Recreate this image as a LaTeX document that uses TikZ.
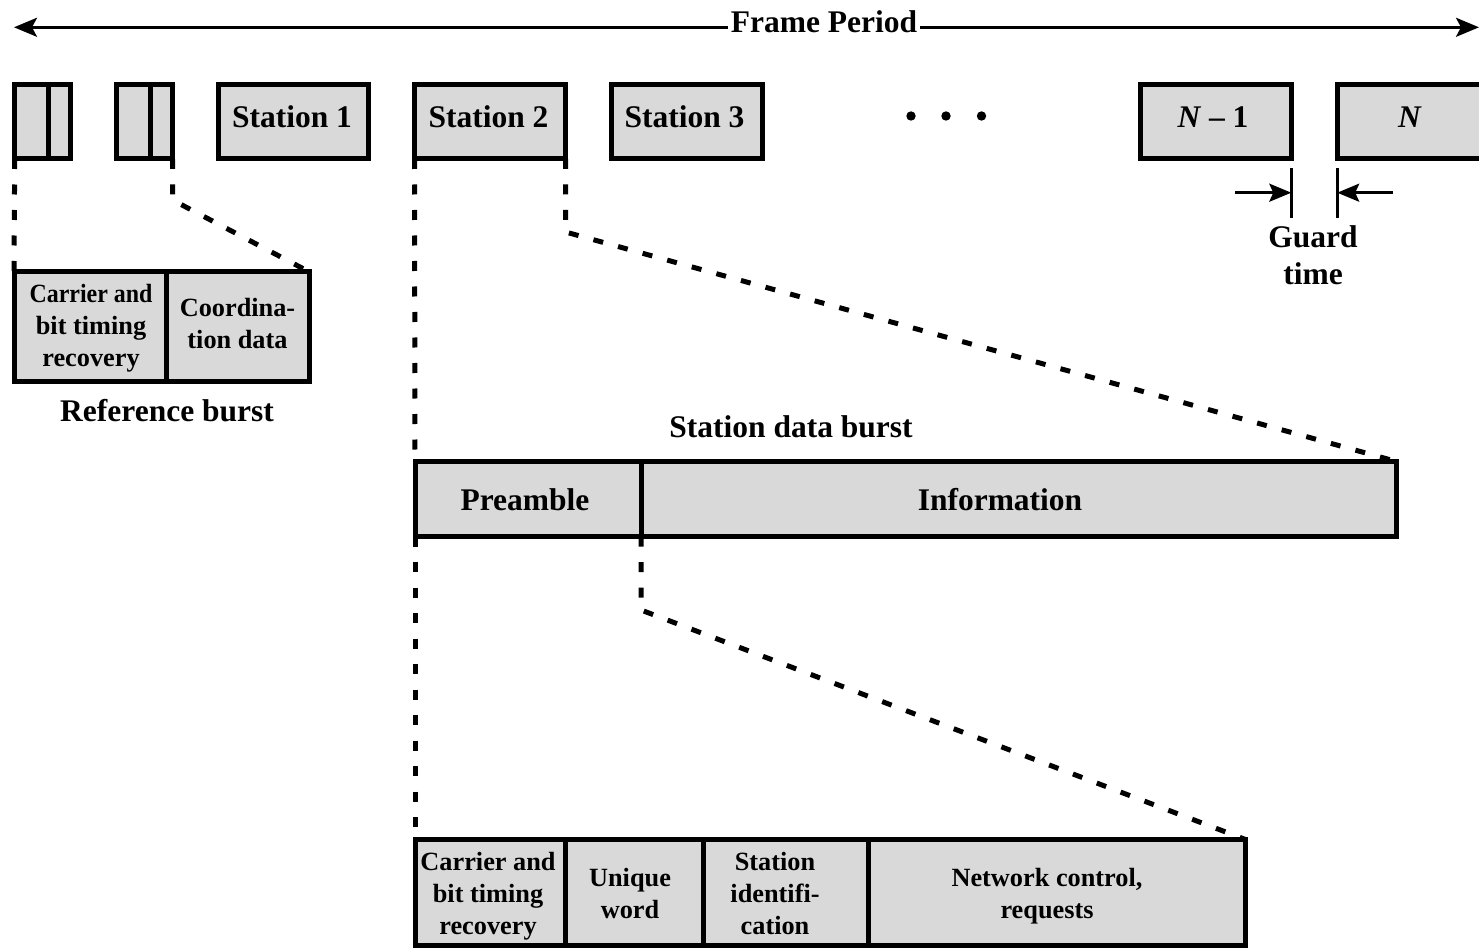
\documentclass[tikz,border=0pt]{standalone}
\usepackage{fontspec}
\setmainfont{Liberation Serif}
\usetikzlibrary{arrows.meta}
\definecolor{cellgray}{RGB}{217,217,217}
\tikzset{
  cell/.style={draw=black, fill=cellgray, line width=5pt, inner sep=0pt, outer sep=0pt},
  big/.style={font=\fontsize{31.5}{37}\selectfont\bfseries, inner sep=0pt, align=center},
  small/.style={font=\fontsize{26.3}{32}\selectfont\bfseries, inner sep=0pt, align=center},
  dashline/.style={line width=5pt, dash pattern=on 10pt off 15.5pt},
  frarrow/.style={line width=2.8pt, {Stealth[length=23pt,width=19pt,inset=5pt]}-{Stealth[length=23pt,width=19pt,inset=5pt]}},
  garrow/.style={line width=2.8pt, -{Stealth[length=22pt,width=18pt,inset=4pt]}},
  tick/.style={line width=2.8pt},
  dot/.style={circle, fill=black, inner sep=0pt, minimum size=9.4pt}
}
\begin{document}
\begin{tikzpicture}[x=1pt,y=-1pt]
\useasboundingbox (0,0) rectangle (1479,949);

% Frame period arrow
\coordinate (fl) at (14,27.3);
\coordinate (fr) at (1479,27.3);
\draw[frarrow] (fl) -- (fr);
\node[big, anchor=base, fill=white, inner xsep=3pt, inner ysep=2pt] (fp) at (824,33) {Frame Period};

% top row boxes
\node[cell, minimum width=33.5, minimum height=74.5] (b1a) at (31.45,121.75) {};
\node[cell, minimum width=22.3, minimum height=74.5] (b1b) at (59.35,121.75) {};
\node[cell, minimum width=34, minimum height=74.5] (b2a) at (133.2,121.75) {};
\node[cell, minimum width=22.3, minimum height=74.5] (b2b) at (161.35,121.75) {};
\node[cell, minimum width=150.8, minimum height=74.5] (s1) at (293.4,121.75) {};
\node[cell, minimum width=151, minimum height=74.5] (s2) at (490,121.75) {};
\node[cell, minimum width=151, minimum height=74.5] (s3) at (687,121.75) {};
\node[cell, minimum width=150.5, minimum height=74.5] (sn1) at (1215.75,121.75) {};
\node[cell, minimum width=152.8, minimum height=74.5] (sn) at (1413.6,121.75) {};

\node[big, anchor=base] (ts1) at (292,128) {Station 1};
\node[big, anchor=base] (ts2) at (488.5,128) {Station 2};
\node[big, anchor=base] (ts3) at (684.5,128) {Station 3};
\node[big, anchor=base] (tsn1) at (1213,128) {\textit{N} – 1};
\node[big, anchor=base] (tsn) at (1410,128) {\textit{N}};

\node[dot] (d1) at (911,116) {};
\node[dot] (d2) at (946,116) {};
\node[dot] (d3) at (981.5,116) {};

% guard time
\coordinate (g1t) at (1291.3,168.5);
\coordinate (g1b) at (1291.3,218);
\coordinate (g2t) at (1337.2,168.5);
\coordinate (g2b) at (1337.2,218);
\draw[tick] (g1t) -- (g1b);
\draw[tick] (g2t) -- (g2b);
\coordinate (ga1) at (1235,192.7);
\coordinate (ga1e) at (1291.3,192.7);
\coordinate (ga2) at (1392.7,192.7);
\coordinate (ga2e) at (1337.2,192.7);
\draw[garrow] (ga1) -- (ga1e);
\draw[garrow] (ga2) -- (ga2e);
\node[big] (guard) at (1313,259.1) {\strut Guard\\\strut time};

% reference burst
\node[cell, minimum width=152.3, minimum height=109] (ra) at (90.15,326.5) {};
\node[cell, minimum width=143.2, minimum height=109] (rb) at (237.9,326.5) {};
\node[small] (tra) at (91,327.6) {\strut\scalebox{0.91}[1]{Carrier and}\\\strut bit timing\\\strut recovery};
\node[small] (trb) at (237.5,325.6) {\strut Coordina-\\\strut tion data};
\node[big, anchor=base] (tref) at (167,421) {Reference burst};

% station data burst
\node[cell, minimum width=226, minimum height=75] (pre) at (528,499) {};
\node[cell, minimum width=755.5, minimum height=75] (info) at (1018.75,499) {};
\node[big, anchor=base] (tpre) at (525,510) {Preamble};
\node[big, anchor=base] (tinfo) at (1000,510) {Information};
\node[big, anchor=base] (tsdb) at (791,437) {Station data burst};

% preamble detail
\node[cell, minimum width=150.5, minimum height=106] (c1) at (490.25,892.5) {};
\node[cell, minimum width=137.5, minimum height=106] (c2) at (634.25,892.5) {};
\node[cell, minimum width=165, minimum height=106] (c3) at (785.5,892.5) {};
\node[cell, minimum width=377.5, minimum height=106] (c4) at (1056.75,892.5) {};
\node[small] (tc1) at (488,895.6) {\strut Carrier and\\\strut bit timing\\\strut recovery};
\node[small] (tc2) at (630,895.6) {\strut Unique\\\strut word};
\node[small] (tc3) at (775,895.6) {\strut Station\\\strut identifi-\\\strut cation};
\node[small] (tc4) at (1047,895.6) {\strut Network control,\\\strut requests};

% dashed expansion lines
\coordinate (k1) at (172.5,200);
\coordinate (k2) at (565.5,232);
\coordinate (k3) at (641,610);
\draw[dashline] (b1a.south west) -- (ra.north west);
\draw[dashline] (b2b.south east) -- (k1) -- (rb.north east);
\draw[dashline] (s2.south west) -- (pre.north west);
\draw[dashline] (s2.south east) -- (k2) -- (info.north east);
\draw[dashline] (pre.south west) -- (c1.north west);
\draw[dashline] (pre.south east) -- (k3) -- (c4.north east);
\end{tikzpicture}
\end{document}
